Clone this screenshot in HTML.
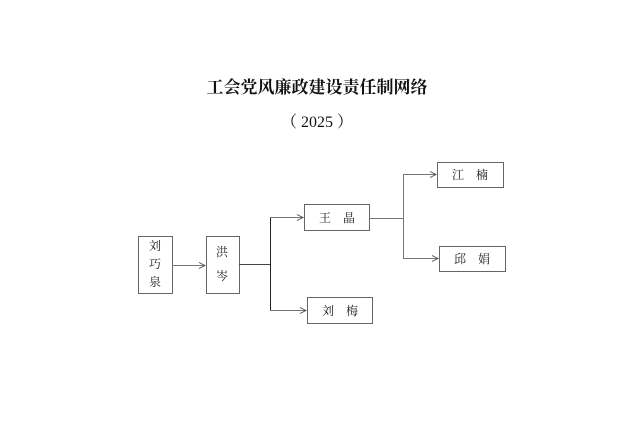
<!DOCTYPE html>
<html><head><meta charset="utf-8"><style>
body{margin:0;background:#fff;width:634px;height:444px;overflow:hidden;position:relative;font-family:"Liberation Serif","Noto Serif CJK SC",serif}
.t{position:absolute;left:0;width:634px;text-align:center;color:#111}
</style></head><body>
<div class="t" style="top:73px;font-size:17px;font-weight:bold">工会党风廉政建设责任制网络</div>
<div class="t" style="top:109px;font-size:16px">（ 2025 ）</div>
<svg width="634" height="444" style="position:absolute;left:0;top:0" font-family="Liberation Serif,Noto Serif CJK SC,serif" font-size="12" fill="#222">
<defs><marker id="a" markerWidth="8" markerHeight="8" refX="7" refY="4" orient="auto" markerUnits="userSpaceOnUse"><path d="M1,1 L7,4 L1,7" fill="none" stroke="#444" stroke-width="0.8"/></marker></defs>
<g fill="#fff" stroke="#666" stroke-width="1">
<rect x="138.5" y="236.5" width="34" height="57"/>
<rect x="206.5" y="236.5" width="33" height="57"/>
<rect x="304.5" y="204.5" width="65" height="26"/>
<rect x="307.5" y="297.5" width="65" height="26"/>
<rect x="437.5" y="162.5" width="66" height="25"/>
<rect x="439.5" y="246.5" width="66" height="25"/>
</g>
<g stroke="#777" stroke-width="1" fill="none">
<line x1="172" y1="265.5" x2="205" y2="265.5" marker-end="url(#a)"/>
<line x1="239" y1="264.5" x2="270" y2="264.5" stroke="#444"/>
<line x1="270.5" y1="217" x2="270.5" y2="310" stroke="#222"/>
<line x1="270" y1="217.5" x2="303" y2="217.5" marker-end="url(#a)"/>
<line x1="270" y1="310.5" x2="306" y2="310.5" marker-end="url(#a)"/>
<line x1="369" y1="218.5" x2="403" y2="218.5"/>
<line x1="403.5" y1="174" x2="403.5" y2="259"/>
<line x1="403" y1="174.5" x2="436" y2="174.5" marker-end="url(#a)"/>
<line x1="403" y1="258.5" x2="438" y2="258.5" marker-end="url(#a)"/>
</g>
<text x="155" y="250" text-anchor="middle">刘</text>
<text x="155" y="268" text-anchor="middle">巧</text>
<text x="155" y="286" text-anchor="middle">泉</text>
<text x="222" y="256" text-anchor="middle">洪</text>
<text x="222" y="280" text-anchor="middle">岑</text>
<text x="337" y="222" text-anchor="middle">王　晶</text>
<text x="340" y="315" text-anchor="middle">刘　梅</text>
<text x="470" y="179" text-anchor="middle">江　楠</text>
<text x="472" y="263" text-anchor="middle">邱　娟</text>
</svg>
</body></html>
